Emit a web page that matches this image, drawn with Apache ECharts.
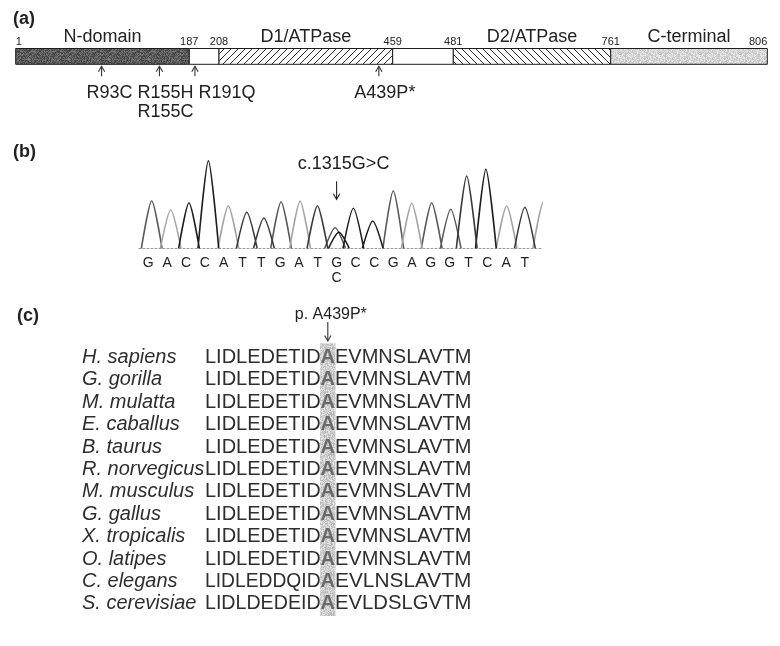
<!DOCTYPE html>
<html><head><meta charset="utf-8">
<script src="https://cdn.jsdelivr.net/npm/echarts@6/dist/echarts.min.js"></script>
<style>html,body{margin:0;padding:0;background:#fff}#main{width:780px;height:646px}</style>
</head><body><div id="main"></div>
<script>
// ================= DATA =================
// (a) protein domains (residue numbers)
const domainBoundaries = [1, 187, 208, 459, 481, 761, 806];
const domainNames = ['N-domain', '', 'D1/ATPase', '', 'D2/ATPase', 'C-terminal'];
const mutationResidues = [93, 155, 191, 439];
const mutationLabels = ['R93C', 'R155H\nR155C', 'R191Q', 'A439P*'];

// (b) chromatogram
const baseCalls = ['G','A','C','C','A','T','T','G','A','T','G','C','C','G','A','G','G','T','C','A','T'];
const secondaryCallIndex = 10;
const secondaryCall = 'C';
const mutationText = 'c.1315G>C';
const peakBases     = ['G','A','C','C','A','T','T','G','A','T','G','C','C','C','G','A','G','G','T','C','A','T','A'];
const peakPositions = [0.18,1.19,2.16,3.19,4.25,5.23,6.14,7.05,8.06,8.98,9.92,10.12,10.89,11.92,13.01,13.99,15.05,16.06,16.91,17.93,19.03,20.0,20.98];
const peakHeights   = [47.6,38.3,45.6,87.6,42.6,36,30.3,46.6,47.3,42.6,20.6,16,40,27.3,57.6,45,45.6,39,72.3,79,42.6,41,46];

// (c) alignment
const species = ['H. sapiens','G. gorilla','M. mulatta','E. caballus','B. taurus','R. norvegicus',
                 'M. musculus','G. gallus','X. tropicalis','O. latipes','C. elegans','S. cerevisiae'];
const sequences = ['LIDLEDETIDAEVMNSLAVTM','LIDLEDETIDAEVMNSLAVTM','LIDLEDETIDAEVMNSLAVTM','LIDLEDETIDAEVMNSLAVTM',
                   'LIDLEDETIDAEVMNSLAVTM','LIDLEDETIDAEVMNSLAVTM','LIDLEDETIDAEVMNSLAVTM','LIDLEDETIDAEVMNSLAVTM',
                   'LIDLEDETIDAEVMNSLAVTM','LIDLEDETIDAEVMNSLAVTM','LIDLEDDQIDAEVLNSLAVTM','LIDLDEDEIDAEVLDSLGVTM'];
const highlightColumn = 10;
const alignmentLabel = 'p. A439P*';

// ================= LAYOUT / STYLE =================
const FONT = '"Liberation Sans", Arial, Helvetica, sans-serif';
// the source schematic is not drawn to scale: drawn width of each domain segment (px)
const SEGMENT_DRAW_WIDTHS = [173.6, 29.7, 173.7, 60.6, 157.4, 156.6];
const MUT_LABEL_SHIFT = [8, 6, 32, 6];
const PEAK_HALF_WIDTH = 0.55;
const BASE_COLORS = { G: '#5a5a5a', A: '#a4a4a4', C: '#1e1e1e', T: '#3a3a3a' };

const cum = [0];
SEGMENT_DRAW_WIDTHS.forEach(w => cum.push(cum[cum.length - 1] + w));
const TOTAL_W = cum[cum.length - 1];
function residueToDraw(r) {
  for (let k = 0; k < domainBoundaries.length - 1; k++) {
    const a = domainBoundaries[k], b = domainBoundaries[k + 1];
    if (r <= b || k === domainBoundaries.length - 2) {
      return cum[k] + (r - a) / (b - a) * SEGMENT_DRAW_WIDTHS[k];
    }
  }
}

// fill textures
function hatch(dir) {
  const s = 7, c = document.createElement('canvas'); c.width = s; c.height = s;
  const g = c.getContext('2d'); g.fillStyle = '#fff'; g.fillRect(0, 0, s, s);
  g.strokeStyle = '#2a2a2a'; g.lineWidth = 1; g.beginPath();
  for (const o of [-s, 0, s]) {
    if (dir > 0) { g.moveTo(o, s); g.lineTo(o + s, 0); }
    else { g.moveTo(o, 0); g.lineTo(o + s, s); }
  }
  g.stroke();
  return { image: c, repeat: 'repeat' };
}
function speckle(base, amp, seed) {
  const s = 40, c = document.createElement('canvas'); c.width = s; c.height = s;
  const g = c.getContext('2d'); const img = g.createImageData(s, s);
  for (let i = 0; i < s * s; i++) {
    seed = (Math.imul(seed, 1664525) + 1013904223) >>> 0;
    const v = Math.max(0, Math.min(255, Math.round(base + (seed / 4294967296 - 0.5) * amp)));
    img.data[i * 4] = v; img.data[i * 4 + 1] = v; img.data[i * 4 + 2] = v; img.data[i * 4 + 3] = 255;
  }
  g.putImageData(img, 0, 0);
  return { image: c, repeat: 'repeat' };
}
const DOMAIN_FILLS = [speckle(92, 64, 7), '#ffffff', hatch(1), '#ffffff', hatch(-1), speckle(214, 48, 99)];
const BAND_FILL = speckle(206, 56, 31);

// text measurement
const mctx = document.createElement('canvas').getContext('2d');
function measure(t, font) { mctx.font = font; return mctx.measureText(t).width; }
const SEQ_FONT = '20px ' + FONT;
const HL_FONT = 'bold 20px ' + FONT;
const refPre = sequences[0].slice(0, highlightColumn);
const refSuf = sequences[0].slice(highlightColumn + 1);
const W_PRE = measure(refPre, SEQ_FONT);
const W_SUF = measure(refSuf, SEQ_FONT);
const W_HL = measure(sequences[0][highlightColumn], HL_FONT);

// build traces
const traceSeries = ['G', 'A', 'C', 'T'].map(b => {
  const data = [];
  peakBases.forEach((pb, i) => {
    if (pb !== b) return;
    const p = peakPositions[i], h = peakHeights[i];
    if (data.length) data.push([p - PEAK_HALF_WIDTH, '-']);
    data.push([p - PEAK_HALF_WIDTH, 0], [p, h], [p + PEAK_HALF_WIDTH, 0]);
  });
  return {
    type: 'line', name: b, xAxisIndex: 1, yAxisIndex: 1, data,
    smooth: 0.25, symbol: 'none', connectNulls: false, clip: true,
    lineStyle: { color: BASE_COLORS[b], width: 1.6, join: 'round' }, silent: true, z: 3
  };
});

function arrow(x, yTail, yHead, color) {
  const d = yHead > yTail ? 1 : -1;
  return [
    { type: 'line', shape: { x1: x, y1: yTail, x2: x, y2: yHead }, style: { stroke: color, lineWidth: 1.1 } },
    { type: 'polyline', shape: { points: [[x - 3.2, yHead - d * 5.5], [x, yHead], [x + 3.2, yHead - d * 5.5]] },
      style: { stroke: color, lineWidth: 1.1, fill: null } }
  ];
}

const option = {
  animation: false,
  backgroundColor: '#ffffff',
  title: [
    { text: '(a)', left: 13, top: 10, padding: 0, textStyle: { fontSize: 18, fontWeight: 'bold', color: '#222', fontFamily: FONT } },
    { text: '(b)', left: 13, top: 143, padding: 0, textStyle: { fontSize: 18, fontWeight: 'bold', color: '#222', fontFamily: FONT } },
    { text: '(c)', left: 17, top: 307, padding: 0, textStyle: { fontSize: 18, fontWeight: 'bold', color: '#222', fontFamily: FONT } }
  ],
  grid: [
    { left: 15.7, top: 48.5, width: TOTAL_W, height: 15.8 },
    { left: 138.9, top: 158.3, width: 402, height: 90 },
    { left: 82, top: 346.3, width: 123, height: 268.8 }
  ],
  xAxis: [
    { gridIndex: 0, type: 'value', min: 0, max: TOTAL_W, show: false },
    { gridIndex: 1, type: 'value', min: -0.5, max: 20.85,
      axisLine: { show: true, lineStyle: { color: '#9a9a9a', type: [2, 2], width: 1 } },
      axisTick: { show: false }, axisLabel: { show: false }, splitLine: { show: false } },
    { gridIndex: 2, type: 'category', data: ['name', 'seq'], boundaryGap: false, show: false }
  ],
  yAxis: [
    { gridIndex: 0, type: 'value', min: 0, max: 1, show: false },
    { gridIndex: 1, type: 'value', min: 0, max: 90, show: false },
    { gridIndex: 2, type: 'category', data: species, inverse: true, show: false }
  ],
  series: [
    // (a) domains
    {
      type: 'custom', xAxisIndex: 0, yAxisIndex: 0, silent: true,
      data: domainNames.map((n, k) => [residueToDraw(domainBoundaries[k]), residueToDraw(domainBoundaries[k + 1])]),
      renderItem(params, api) {
        const k = params.dataIndex;
        const p0 = api.coord([api.value(0), 1]);
        const p1 = api.coord([api.value(1), 0]);
        const ch = [{ type: 'rect', shape: { x: p0[0], y: p0[1], width: p1[0] - p0[0], height: p1[1] - p0[1] },
          style: { fill: DOMAIN_FILLS[k], stroke: '#1c1c1c', lineWidth: 1 } }];
        if (domainNames[k]) ch.push({ type: 'text', x: (p0[0] + p1[0]) / 2, y: p0[1] - 11,
          style: { text: domainNames[k], font: '18px ' + FONT, fill: '#222', align: 'center', verticalAlign: 'middle' } });
        return { type: 'group', children: ch };
      }
    },
    // (a) boundary numbers
    {
      type: 'custom', xAxisIndex: 0, yAxisIndex: 0, silent: true,
      data: domainBoundaries.map(b => [residueToDraw(b), b]),
      renderItem(params, api) {
        const i = params.dataIndex, n = domainBoundaries.length;
        const p = api.coord([api.value(0), 1]);
        return { type: 'text', x: p[0], y: p[1] - 6.5,
          style: { text: String(domainBoundaries[i]), font: '11px ' + FONT, fill: '#222',
            align: i === 0 ? 'left' : (i === n - 1 ? 'right' : 'center'), verticalAlign: 'middle' } };
      }
    },
    // (a) mutations
    {
      type: 'custom', xAxisIndex: 0, yAxisIndex: 0, silent: true,
      data: mutationResidues.map(r => [residueToDraw(r), r]),
      renderItem(params, api) {
        const i = params.dataIndex;
        const p = api.coord([api.value(0), 0]);
        const ch = arrow(p[0], p[1] + 12, p[1] + 2, '#333');
        ch.push({ type: 'text', x: p[0] + MUT_LABEL_SHIFT[i], y: p[1] + 19.5,
          style: { text: mutationLabels[i], font: '18px ' + FONT, fill: '#222', align: 'center', verticalAlign: 'top', lineHeight: 19 } });
        return { type: 'group', children: ch };
      }
    },
    // (b) traces
    ...traceSeries,
    // (b) base calls
    {
      type: 'custom', xAxisIndex: 1, yAxisIndex: 1, silent: true, clip: false,
      data: baseCalls.map((b, i) => [i, 0]),
      renderItem(params, api) {
        const i = params.dataIndex;
        const p = api.coord([api.value(0), 0]);
        const ch = [{ type: 'text', x: p[0], y: p[1] + 15,
          style: { text: baseCalls[i], font: '14px ' + FONT, fill: '#222', align: 'center', verticalAlign: 'middle' } }];
        if (i === secondaryCallIndex) ch.push({ type: 'text', x: p[0], y: p[1] + 30,
          style: { text: secondaryCall, font: '14px ' + FONT, fill: '#222', align: 'center', verticalAlign: 'middle' } });
        return { type: 'group', children: ch };
      }
    },
    // (b) mutation arrow
    {
      type: 'custom', xAxisIndex: 1, yAxisIndex: 1, silent: true, clip: false,
      data: [[secondaryCallIndex, 0]],
      renderItem(params, api) {
        const p = api.coord([api.value(0), 0]);
        const ch = arrow(p[0], p[1] - 67, p[1] - 49, '#222');
        ch.push({ type: 'text', x: p[0] + 7, y: p[1] - 84,
          style: { text: mutationText, font: '18px ' + FONT, fill: '#222', align: 'center', verticalAlign: 'middle' } });
        return { type: 'group', children: ch };
      }
    },
    // (c) highlight band + arrow
    {
      type: 'custom', xAxisIndex: 2, yAxisIndex: 2, silent: true, clip: false, z: 1,
      data: [[1, 0]],
      renderItem(params, api) {
        const t = api.coord([1, 0]);
        const b = api.coord([1, species.length - 1]);
        const rowH = api.size([0, 1])[1];
        const x = t[0] + W_PRE;
        const ch = [{ type: 'rect', shape: { x: x - 0.5, y: t[1] - rowH / 2 - 3, width: W_HL + 1, height: b[1] - t[1] + rowH + 4 },
          style: { fill: BAND_FILL } }];
        const cx = x + W_HL / 2;
        ch.push(...arrow(cx, t[1] - 35.5, t[1] - 16.5, '#333'));
        ch.push({ type: 'text', x: cx + 3, y: t[1] - 42.5,
          style: { text: alignmentLabel, font: '16px ' + FONT, fill: '#222', align: 'center', verticalAlign: 'middle' } });
        return { type: 'group', children: ch };
      }
    },
    // (c) species names
    {
      type: 'custom', xAxisIndex: 2, yAxisIndex: 2, silent: true, clip: false, z: 2,
      data: species.map((s, i) => [0, i]),
      renderItem(params, api) {
        const p = api.coord([0, api.value(1)]);
        return { type: 'text', x: p[0], y: p[1],
          style: { text: species[params.dataIndex], font: 'italic 20px ' + FONT, fill: '#2e2e2e', align: 'left', verticalAlign: 'middle' } };
      }
    },
    // (c) sequences
    {
      type: 'custom', xAxisIndex: 2, yAxisIndex: 2, silent: true, clip: false, z: 3,
      data: sequences.map((s, i) => [1, i]),
      renderItem(params, api) {
        const seq = sequences[params.dataIndex];
        const p = api.coord([1, api.value(1)]);
        const pre = seq.slice(0, highlightColumn), hl = seq[highlightColumn], suf = seq.slice(highlightColumn + 1);
        const sPre = W_PRE / measure(pre, SEQ_FONT);
        const sSuf = W_SUF / measure(suf, SEQ_FONT);
        return { type: 'group', children: [
          { type: 'text', x: p[0], y: p[1], scaleX: sPre,
            style: { text: pre, font: SEQ_FONT, fill: '#2e2e2e', align: 'left', verticalAlign: 'middle' } },
          { type: 'text', x: p[0] + W_PRE, y: p[1],
            style: { text: hl, font: HL_FONT, fill: '#6a6a6a', align: 'left', verticalAlign: 'middle' } },
          { type: 'text', x: p[0] + W_PRE + W_HL, y: p[1], scaleX: sSuf,
            style: { text: suf, font: SEQ_FONT, fill: '#2e2e2e', align: 'left', verticalAlign: 'middle' } }
        ] };
      }
    }
  ]
};
const chart = echarts.init(document.getElementById('main'), null, { renderer: 'canvas' });
chart.setOption(option);
</script>
</body></html>
